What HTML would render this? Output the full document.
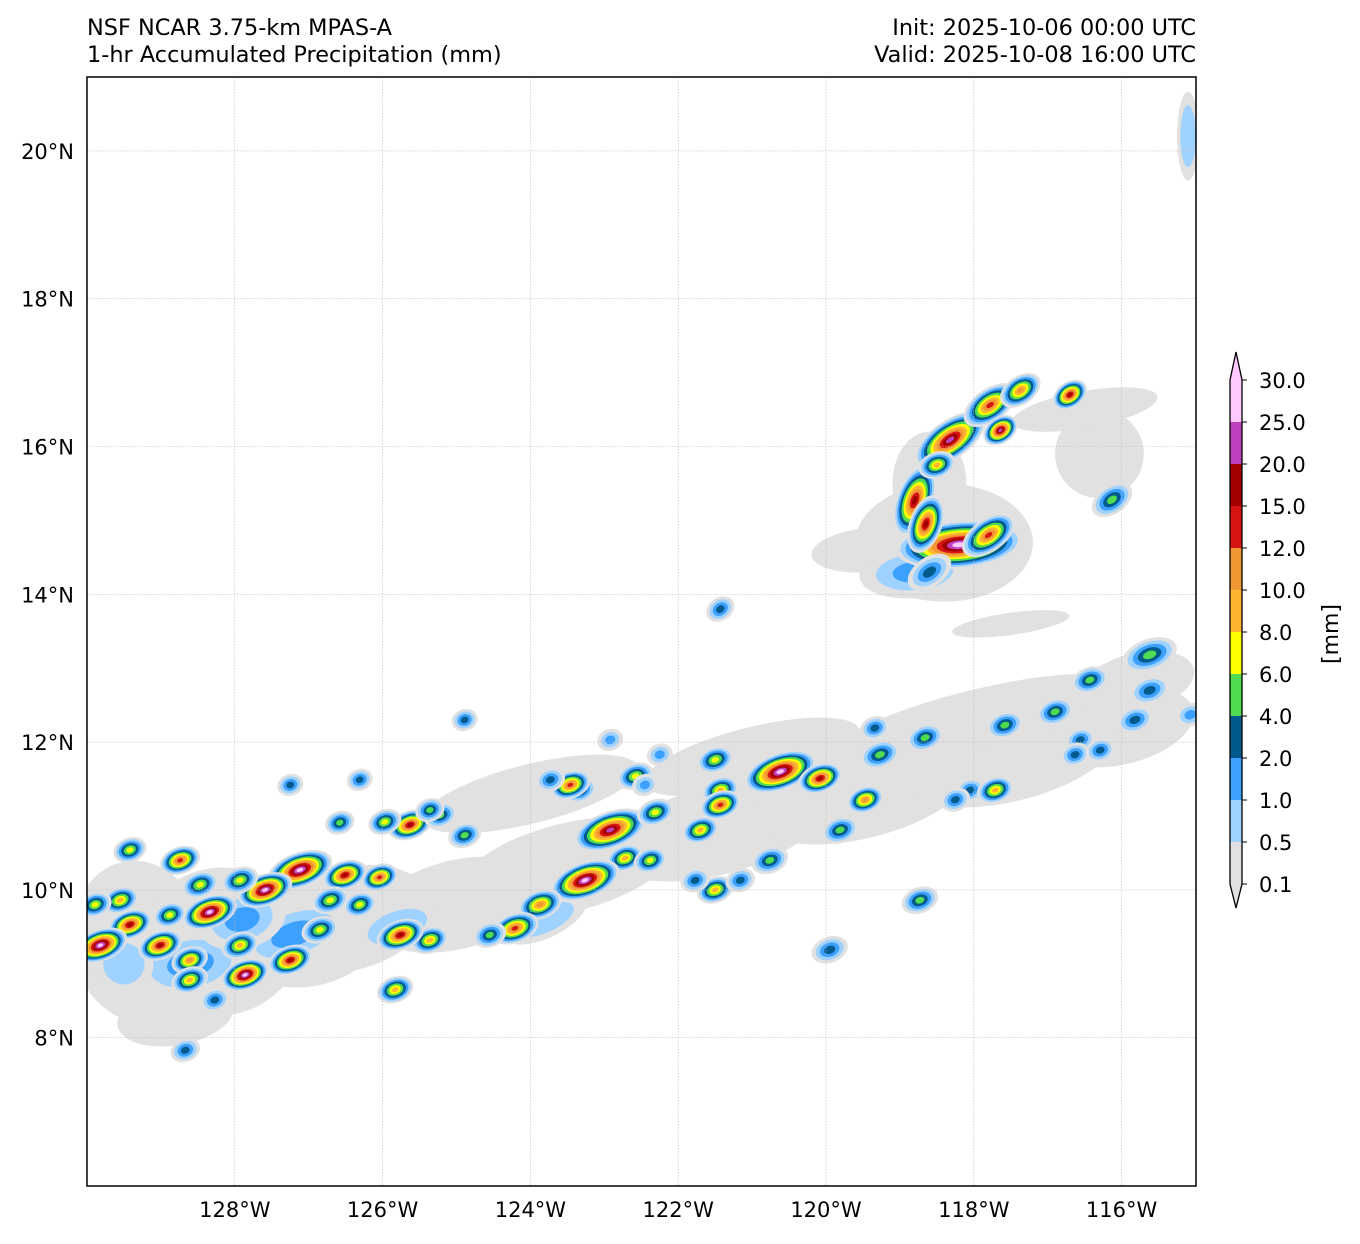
<!DOCTYPE html>
<html><head><meta charset="utf-8"><style>
body{margin:0;background:#fff;font-family:"Liberation Sans","DejaVu Sans",sans-serif;}
</style></head><body>
<svg id="chart" width="1360" height="1239" xmlns="http://www.w3.org/2000/svg" font-family="DejaVu Sans, Liberation Sans, sans-serif">
<rect width="1360" height="1239" fill="#fff"/>
<text x="87" y="35" font-size="22.4">NSF NCAR 3.75-km MPAS-A</text>
<text x="87" y="62" font-size="22.4">1-hr Accumulated Precipitation (mm)</text>
<text x="1196" y="35" font-size="22.4" text-anchor="end">Init: 2025-10-06 00:00 UTC</text>
<text x="1196" y="62" font-size="22.4" text-anchor="end">Valid: 2025-10-08 16:00 UTC</text>
<defs><clipPath id="mapclip"><rect x="87" y="77" width="1109" height="1109"/></clipPath></defs>
<g id="field" clip-path="url(#mapclip)"></g>
<g id="grid"></g>
<rect x="87" y="77" width="1109" height="1109" fill="none" stroke="#000" stroke-width="1.5"/>
<g id="axes"></g>
<g id="cbar"></g>
<text transform="translate(1338,634) rotate(-90)" font-size="22" text-anchor="middle">[mm]</text>
</svg>
<script>
const levels=["0.1","0.5","1.0","2.0","4.0","6.0","8.0","10.0","12.0","15.0","20.0","25.0","30.0"];
const colors=["#e1e1e1","#a0d2ff","#3ca0ff","#005a8c","#50dc50","#ffff00","#ffb432","#f09632","#d71414","#a00000","#c040c0","#ffc8ff"];
const lonTicks=[-128,-126,-124,-122,-120,-118,-116];
const latTicks=[8,10,12,14,16,18,20];
// broad stratiform areas: lon, lat, maxLevel, rx(deg), ry(deg), angle
const areas=[
[-129.3,9.3,0,0.9,1.1,-10],[-128.2,9.3,0,1.1,1.0,-10],[-127,9.5,0,1.1,0.8,-14],[-126.5,9.6,0,1.2,0.7,-14],[-125,9.8,0,1.2,0.6,-14],
[-123.5,10.3,0,1.5,0.6,-14],[-121.5,10.8,0,1.5,0.6,-14],[-119.5,11.3,0,1.5,0.6,-14],[-117.5,11.8,0,1.5,0.6,-14],
[-116,12.2,0,1.0,0.5,-14],[-124,11.3,0,1.5,0.4,-14],[-121,11.8,0,1.5,0.4,-14],[-118,12.3,0,2,0.4,-14],
[-115.8,12.8,0,0.8,0.4,-14],[-118.4,14.7,0,1.2,0.8,0],[-118.6,15.5,0,0.5,0.7,0],[-116.3,15.9,0,0.6,0.6,0],[-116.5,16.5,0,1.0,0.25,-10],
[-117.5,13.6,0,0.8,0.15,-8],[-119.4,14.6,0,0.8,0.3,-5],[-115.1,20.2,1,0.15,0.6,0],[-128.8,8.3,0,0.8,0.4,-10],
[-118.8,14.3,2,0.75,0.35,-5],[-128.6,9.0,2,0.8,0.45,-10],[-129.5,9.0,1,0.4,0.4,0],[-127.2,9.4,2,0.8,0.4,-20],
[-125.8,9.5,1,0.6,0.3,-20],[-127.9,9.6,2,0.6,0.4,-15],[-123.8,9.6,1,0.6,0.25,-25]];
// convective cells: lon, lat, maxLevel, size scale
const cellLon=[-118.2,-118.8,-118.32,-117.78,-117.37,-117.64,-116.7,-116.13,-118.6,-121.43,
-115.62,-116.43,-116.90,-117.58,-118.66,-119.34,-119.27,-120.62,-120.08,-121.50,-121.43,-119.47,-118.05,-117.71,-118.25,-116.56,-115.62,-115.82,-116.63,-122.58,-123.33,-123.46,-122.92,-122.31,-121.70,-121.43,-122.72,-122.38,-123.26,-123.87,-124.21,-124.55,-121.50,-121.77,-120.76,-119.81,-121.16,-125.36,-125.76,-125.63,-126.04,-126.51,-126.31,-127.12,-127.59,-128.34,-128.88,-129.42,-129.82,-129.01,-128.61,-127.93,-127.25,-127.86,-128.61,-126.85,-126.71,-127.93,-128.47,-129.55,-129.42,-128.74,-129.89,-125.83,-124.89,-125.22,-128.27,-128.67,-119.95,-118.73,-116.29,-115.07,-123.73,-124.89,-127.25,-126.31,-126.58,-122.25,-122.92,-125.97,-125.36,-122.45,
-118.65,-117.8,-118.5];
const cellLat=[14.67,15.27,16.09,16.56,16.76,16.22,16.7,15.28,14.3,13.8,
13.18,12.84,12.41,12.23,12.06,12.19,11.83,11.60,11.51,11.76,11.35,11.22,11.35,11.35,11.22,12.03,12.70,12.30,11.83,11.54,11.35,11.42,10.81,11.05,10.81,11.15,10.43,10.40,10.13,9.80,9.48,9.39,10.00,10.13,10.40,10.81,10.13,9.32,9.39,10.88,10.17,10.20,9.80,10.27,10.00,9.70,9.66,9.53,9.25,9.25,9.05,9.25,9.05,8.85,8.78,9.46,9.86,10.13,10.07,9.86,10.54,10.40,9.80,8.65,10.74,11.01,8.51,7.83,9.19,9.86,11.89,12.37,11.49,12.30,11.42,11.49,10.91,11.83,12.03,10.92,11.08,11.42,
14.95,14.8,15.75];
const cellLvl=[11,9,10,8,7,10,9,4,3,3,
4,4,4,4,4,3,4,11,9,5,6,7,3,6,3,3,3,3,3,5,4,8,10,5,6,8,6,5,11,7,8,4,6,3,4,4,3,6,9,9,8,9,5,11,11,11,5,9,11,9,7,6,9,11,6,5,5,5,5,6,5,8,5,6,4,4,3,3,3,4,3,2,3,3,3,3,4,2,2,5,4,2,
9,8,6];
const cellSize=[3.4,2.0,2.2,1.6,1.2,1,1,1.2,1.3,0.8,
1.5,1,1,1,1,0.8,1.1,2.0,1.2,1,1,1,0.8,1,0.8,0.8,1.1,1,0.8,1,0.9,1.1,2.0,1,1,1.1,1,0.9,1.9,1.2,1.3,0.9,1,0.8,1,1,0.8,1,1.3,1.2,1,1.2,0.9,1.8,1.5,1.5,0.9,1.2,1.5,1.2,1,1,1.2,1.3,1,1,1,1,1,1,0.9,1.1,0.9,1,0.9,0.9,0.8,0.8,1,1,0.8,0.8,0.8,0.7,0.7,0.7,0.8,0.7,0.7,0.9,0.8,0.7,
1.6,1.6,1.0];
const NS="http://www.w3.org/2000/svg";
const ppd=73.9;
function xOf(lon){return 87+(lon+130)*ppd;}
function yOf(lat){return 77+(21-lat)*ppd;}
const field=document.getElementById('field');
function ell(cx,cy,rx,ry,ang,col){
  const e=document.createElementNS(NS,'ellipse');
  e.setAttribute('cx',cx);e.setAttribute('cy',cy);e.setAttribute('rx',Math.max(rx,1));e.setAttribute('ry',Math.max(ry,1));
  e.setAttribute('transform','rotate('+ang+' '+cx+' '+cy+')');e.setAttribute('fill',col);
  
  
  field.appendChild(e);
}
areas.forEach(a=>{
  for(let k=0;k<=a[2];k++){const s=1-k*0.3;ell(xOf(a[0]),yOf(a[1]),a[3]*ppd*s,a[4]*ppd*s,a[5],colors[k]);}
});
for(let i=0;i<cellLon.length;i++){
  const L=cellLvl[i],sz=cellSize[i],cx=xOf(cellLon[i]),cy=yOf(cellLat[i]);
  const rx=0.17*ppd*sz, ry=0.09*ppd*Math.sqrt(sz)*1.3;
  const ang=i===0?-5:(i===1||i===92?-70:(i<10||i===93?-35:-20));
  for(let k=0;k<=L;k++){const s=1.5*(1-k/(L+1.3));ell(cx,cy,rx*s,ry*s,ang,colors[k]);}
}
const grid=document.getElementById('grid'),axes=document.getElementById('axes');
lonTicks.forEach(v=>{
  const x=xOf(v);
  const l=document.createElementNS(NS,'line');l.setAttribute('x1',x);l.setAttribute('x2',x);l.setAttribute('y1',77);l.setAttribute('y2',1186);
  l.setAttribute('stroke','#bbb');l.setAttribute('stroke-width','0.6');l.setAttribute('stroke-dasharray','1.5,1.5');
  
  
  grid.appendChild(l);
  const t=document.createElementNS(NS,'text');t.setAttribute('x',x);t.setAttribute('y',1217);t.setAttribute('font-size','21');t.setAttribute('text-anchor','middle');
  t.textContent=(-v)+'°W';
  
  
  axes.appendChild(t);
});
latTicks.forEach(v=>{
  const y=yOf(v);
  const l=document.createElementNS(NS,'line');l.setAttribute('y1',y);l.setAttribute('y2',y);l.setAttribute('x1',87);l.setAttribute('x2',1196);
  l.setAttribute('stroke','#bbb');l.setAttribute('stroke-width','0.6');l.setAttribute('stroke-dasharray','1.5,1.5');
  
  
  grid.appendChild(l);
  const t=document.createElementNS(NS,'text');t.setAttribute('x',74);t.setAttribute('y',y+8);t.setAttribute('font-size','21');t.setAttribute('text-anchor','end');
  t.textContent=v+'°N';
  
  
  axes.appendChild(t);
});
const cb=document.getElementById('cbar');
const cbX=1230,cbW=12,cbBot=884,step=42;
const cbTopY=cbBot-(colors.length-1)*step;
for(let k=0;k<colors.length-1;k++){
  const r=document.createElementNS(NS,'rect');
  r.setAttribute('x',cbX);r.setAttribute('width',cbW);r.setAttribute('y',cbBot-(k+1)*step);r.setAttribute('height',step);r.setAttribute('fill',colors[k]);
  
  
  cb.appendChild(r);
}
const tri=document.createElementNS(NS,'path');
tri.setAttribute('d',`M${cbX},${cbBot} L${cbX+cbW/2},908 L${cbX+cbW},${cbBot} Z`);tri.setAttribute('fill','#e1e1e1');


cb.appendChild(tri);
const capTop=document.createElementNS(NS,'path');
capTop.setAttribute('d',`M${cbX},${cbTopY} L${cbX+cbW},${cbTopY} L${cbX+cbW},${cbTopY-step} L${cbX+cbW/2},${cbTopY-step-28} L${cbX},${cbTopY-step} Z`);
capTop.setAttribute('fill',colors[colors.length-1]);


cb.appendChild(capTop);
const outline=document.createElementNS(NS,'path');
outline.setAttribute('d',`M${cbX},${cbTopY-step} L${cbX+cbW/2},${cbTopY-step-28} L${cbX+cbW},${cbTopY-step} L${cbX+cbW},${cbBot} L${cbX+cbW/2},908 L${cbX},${cbBot} Z`);
outline.setAttribute('fill','none');outline.setAttribute('stroke','#000');outline.setAttribute('stroke-width','1.3');


cb.appendChild(outline);
levels.forEach((lab,k)=>{
  const y=cbBot-k*step;
  const tk=document.createElementNS(NS,'line');tk.setAttribute('x1',cbX+cbW);tk.setAttribute('x2',cbX+cbW+5);tk.setAttribute('y1',y);tk.setAttribute('y2',y);tk.setAttribute('stroke','#000');
  
  
  cb.appendChild(tk);
  const t=document.createElementNS(NS,'text');t.setAttribute('x',1259);t.setAttribute('y',y+8);t.setAttribute('font-size','21');t.textContent=lab;
  
  
  cb.appendChild(t);
});
</script>
</body></html>
